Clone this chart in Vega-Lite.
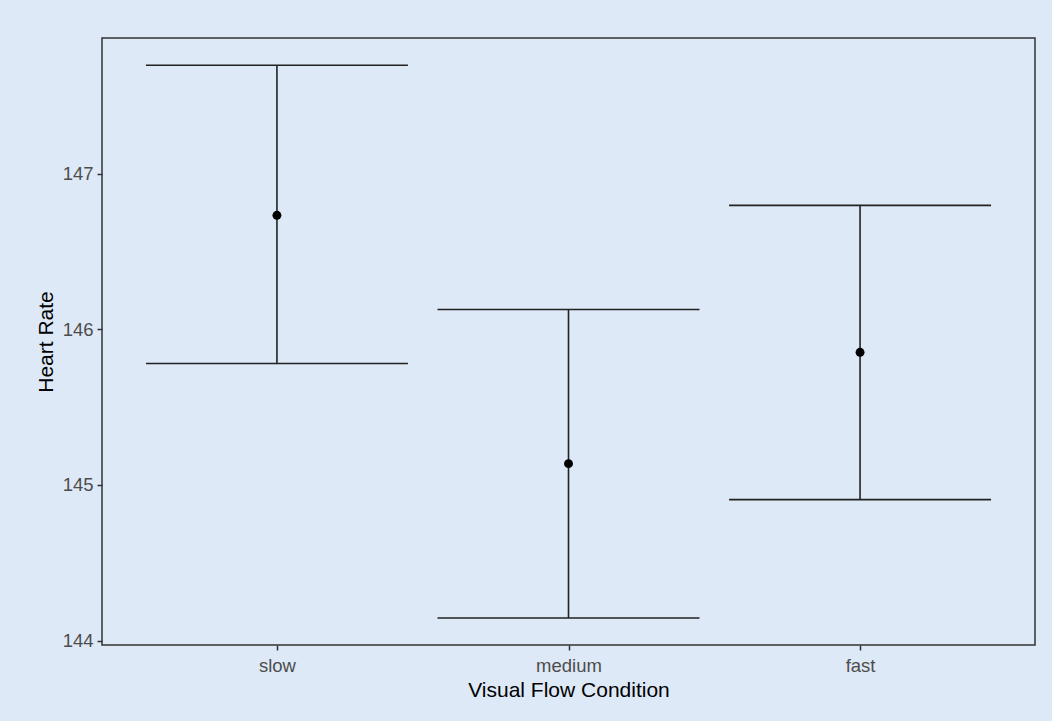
{
  "$schema": "https://vega.github.io/schema/vega-lite/v6.json",
  "width": 933,
  "height": 607,
  "autosize": {"type": "none"},
  "padding": {"left": 102, "top": 38, "right": 17, "bottom": 76},
  "background": "#dde9f6",
  "config": {
    "font": "Liberation Sans",
    "view": {"stroke": "#333333", "strokeWidth": 1.5, "fill": "#dde9f6"},
    "axis": {
      "domain": false,
      "grid": false,
      "tickColor": "#333333",
      "tickWidth": 1.5,
      "tickSize": 5,
      "labelColor": "#4d4d4d",
      "labelFontSize": 18.5,
      "labelFont": "Liberation Sans",
      "titleFont": "Liberation Sans",
      "titleFontSize": 21,
      "titleFontWeight": "normal",
      "titleColor": "#000000"
    }
  },
  "data": {
    "values": [
      {"condition": "slow", "mean": 146.732, "lower": 145.780, "upper": 147.696},
      {"condition": "medium", "mean": 145.137, "lower": 144.145, "upper": 146.127},
      {"condition": "fast", "mean": 145.852, "lower": 144.906, "upper": 146.796}
    ]
  },
  "encoding": {
    "x": {
      "field": "condition",
      "type": "nominal",
      "sort": ["slow", "medium", "fast"],
      "scale": {"type": "point", "padding": 0.6},
      "axis": {"title": "Visual Flow Condition", "labelAngle": 0, "labelPadding": 6, "titlePadding": 5}
    }
  },
  "layer": [
    {
      "mark": {"type": "rule", "color": "#222222", "strokeWidth": 1.6, "opacity": 1},
      "encoding": {
        "y": {
          "field": "lower",
          "type": "quantitative",
          "scale": {"domain": [143.972, 147.871], "nice": false, "zero": false},
          "axis": {"title": "Heart Rate", "values": [144, 145, 146, 147], "format": "d", "labelPadding": 4, "titlePadding": 6}
        },
        "y2": {"field": "upper"}
      }
    },
    {
      "mark": {"type": "tick", "orient": "horizontal", "size": 262, "thickness": 1.6, "color": "#222222", "opacity": 1},
      "encoding": {"y": {"field": "upper", "type": "quantitative"}}
    },
    {
      "mark": {"type": "tick", "orient": "horizontal", "size": 262, "thickness": 1.6, "color": "#222222", "opacity": 1},
      "encoding": {"y": {"field": "lower", "type": "quantitative"}}
    },
    {
      "mark": {"type": "point", "filled": true, "size": 80, "color": "#000000", "opacity": 1},
      "encoding": {"y": {"field": "mean", "type": "quantitative"}}
    }
  ]
}
